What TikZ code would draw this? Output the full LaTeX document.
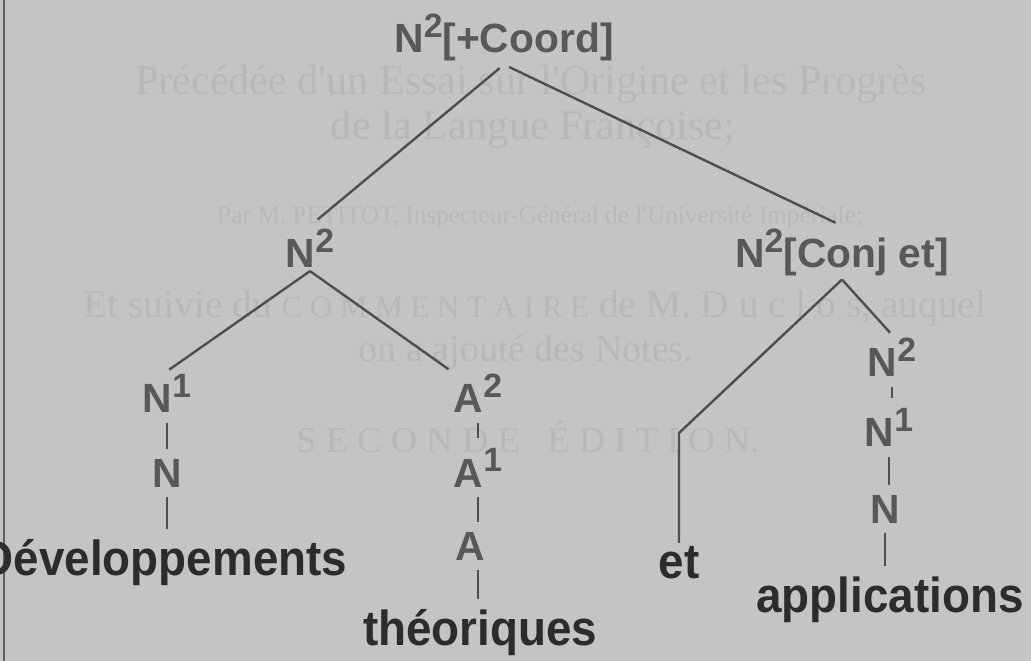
\documentclass[tikz,border=0pt]{standalone}
\usepackage{fontspec}
\setmainfont{Liberation Sans}
\newfontfamily\bookfont{Liberation Serif}
\usetikzlibrary{positioning}
\definecolor{paper}{HTML}{C4C4C4}
\definecolor{bleed}{HTML}{B8B8B8}
\definecolor{catgray}{HTML}{585858}
\definecolor{wordgray}{HTML}{2C2C2C}
\definecolor{edgegray}{HTML}{4E4E4E}

% raised index on a category label
\newcommand\lvl[1]{\raisebox{11pt}{\fontsize{24}{24}\selectfont #1}}

\tikzset{
  cat/.style={anchor=base, font=\fontsize{29}{29}\selectfont\bfseries, text=catgray, inner sep=2pt},
  word/.style={anchor=base, font=\fontsize{35}{35}\selectfont\bfseries, text=wordgray, xscale=0.93, inner sep=2pt},
  edge/.style={draw=edgegray, line width=1.7pt},
  link/.style={draw=edgegray, line width=1.3pt, shorten <=5pt, shorten >=5pt},
  bookline/.style={anchor=base, font=\bookfont\fontsize{30}{30}\selectfont, text=bleed, inner sep=0pt}
}

\begin{document}
\begin{tikzpicture}[x=0.025cm, y=-0.025cm]
\clip (0,0) rectangle (1031,661);
\fill[paper] (0,0) rectangle (1031,661);
\draw[gray!75!black, line width=0.8pt] (4,0) -- (4,661);

% text showing through from the back of the page
\node[bookline] (bk1) at (531,95) {Précédée d'un Essai sur l'Origine et les Progrès};
\node[bookline] (bk2) at (533,140) {de la Langue Françoise;};
\node[bookline, font=\bookfont\fontsize{18}{18}\selectfont] (bk3) at (540,224) {Par M. PETITOT, Inspecteur-Général de l'Université Impériale;};
\node[bookline, font=\bookfont\fontsize{28}{28}\selectfont] (bk4) at (535,318) {Et suivie du {\fontsize{22}{22}\selectfont C O M M E N T A I R E} de M. D u c l o s, auquel};
\node[bookline, font=\bookfont\fontsize{27}{27}\selectfont] (bk5) at (526,362) {on a ajouté des Notes.};
\node[bookline, font=\bookfont\fontsize{26}{26}\selectfont] (bk6) at (528,453) {S E C O N D E \ \ É D I T I O N.};

% categories
\node[cat] (root) at (504,53) {N\lvl{2}[+Coord]};
\node[cat] (np) at (310,268) {N\lvl{2}};
\node[cat] (conj) at (842,268) {N\lvl{2}[Conj et]};
\node[cat] (n1a) at (167,413) {N\lvl{1}};
\node[cat] (n0a) at (167,487) {N};
\node[cat] (a2) at (478,413) {A\lvl{2}};
\node[cat] (a1) at (478,487) {A\lvl{1}};
\node[cat] (a0) at (470,560) {A};
\node[cat] (n2b) at (892,377) {N\lvl{2}};
\node[cat] (n1b) at (889,447) {N\lvl{1}};
\node[cat] (n0b) at (885,523) {N};

% words
\node[word] (dev) at (164,575) {Développements};
\node[word] (theo) at (480,645) {théoriques};
\node[word] (et) at (679,578) {et};
\node[word] (appl) at (890,612) {applications};
\coordinate (bend) at (679,433);

% branches
\draw[edge, shorten <=4pt, shorten >=7pt] (root.south) -- (np.north);
\draw[edge, shorten <=4pt, shorten >=5pt] (root.south) -- (conj.north);
\draw[edge, shorten >=2pt] (np.south) -- (n1a.north);
\draw[edge, shorten >=2pt] (np.south) -- (a2.north west);
\draw[edge, shorten >=2pt] (conj.south) -- (n2b.north);
\draw[edge] (conj.south) -- (bend) -- (et.north);

% unary chains
\draw[link] (n1a.south) -- (n1a.south |- n0a.north);
\draw[link] (n0a.south) -- (n0a.south |- dev.north);
\draw[link] (a2.south) -- (a2.south |- a1.north);
\draw[link] (a1.south) -- (a1.south |- a0.north);
\draw[link] (a1.south |- a0.south) -- (a1.south |- theo.north);
\draw[link] (n2b.south) -- (n2b.south |- n1b.north);
\draw[link] (n1b.south) -- (n1b.south |- n0b.north);
\draw[link] (n0b.south) -- (n0b.south |- appl.north);
\end{tikzpicture}
\end{document}
